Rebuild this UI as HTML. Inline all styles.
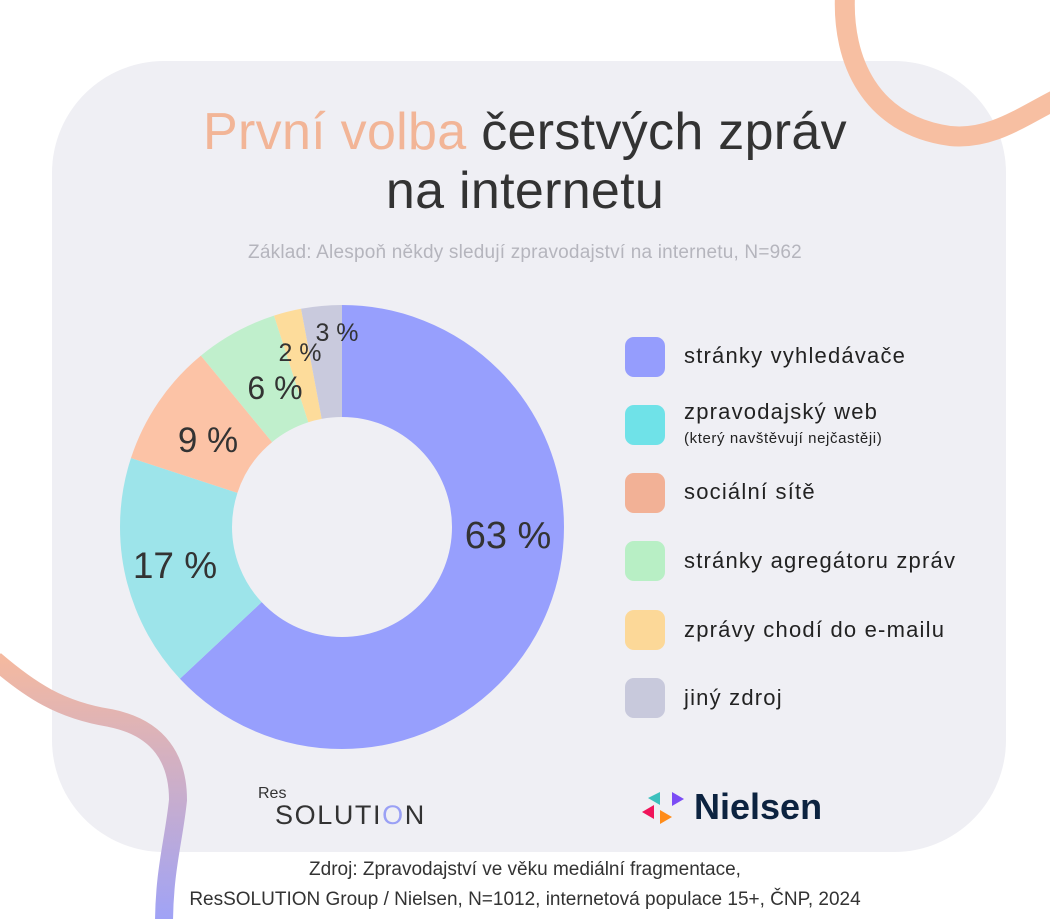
<!DOCTYPE html>
<html><head><meta charset="utf-8"><style>
body{margin:0;width:1050px;height:919px;background:#fff;position:relative;overflow:hidden;font-family:"Liberation Sans",sans-serif}
.panel{position:absolute;left:52px;top:61px;width:954px;height:791px;background:#efeff4;border-radius:112px}
.t{position:absolute;white-space:nowrap}
.sw{position:absolute;left:625px;width:40px;height:40px;border-radius:9px}
.lg{position:absolute;left:684px;font-size:22px;letter-spacing:1.2px;color:#222}
</style></head><body>
<div class="panel"></div>
<svg width="1050" height="919" style="position:absolute;left:0;top:0">
<defs><linearGradient id="g" x1="0" y1="0" x2="0" y2="1"><stop offset="0" stop-color="#f4b9a0"/><stop offset="1" stop-color="#9ea2f8"/></linearGradient></defs>
<path d="M845 -5 C842 60 870 125 950 136 C990 140 1020 118 1055 100" fill="none" stroke="#f7bfa2" stroke-width="20"/>
<path d="M-5 660 C30 690 60 710 110 718 C160 728 178 760 178 800 C174 840 164 870 164 925" fill="none" stroke="url(#g)" stroke-width="18"/>
<g transform="rotate(-90 342 527)" fill="none" stroke-width="112">
<circle cx="342" cy="527" r="166" stroke="#979ffd" stroke-dasharray="657.1 1043" stroke-dashoffset="0"/>
<circle cx="342" cy="527" r="166" stroke="#9de4ea" stroke-dasharray="177.3 1043" stroke-dashoffset="-657.1"/>
<circle cx="342" cy="527" r="166" stroke="#fcc3a6" stroke-dasharray="93.9 1043" stroke-dashoffset="-834.4"/>
<circle cx="342" cy="527" r="166" stroke="#c0efcc" stroke-dasharray="62.6 1043" stroke-dashoffset="-928.3"/>
<circle cx="342" cy="527" r="166" stroke="#fddc9b" stroke-dasharray="20.9 1043" stroke-dashoffset="-990.9"/>
<circle cx="342" cy="527" r="166" stroke="#c9cadd" stroke-dasharray="31.3 1043" stroke-dashoffset="-1011.8"/>
</g>
<g font-family="Liberation Sans, sans-serif" fill="#333" text-anchor="middle">
<text x="508" y="548" font-size="38">63 %</text>
<text x="175" y="578" font-size="37">17 %</text>
<text x="208" y="452" font-size="35">9 %</text>
<text x="275" y="399" font-size="32">6 %</text>
<text x="300" y="361" font-size="25">2 %</text>
<text x="337" y="341" font-size="25">3 %</text>
</g>
<g transform="translate(642,810)">
<polygon points="0,2 12,-5 12,9" fill="#f0145a"/>
<polygon points="6,-12 18,-18 18,-5" fill="#3cc0bd"/>
<polygon points="30,-18 42,-11 30,-4" fill="#7b4cf5"/>
<polygon points="18,0 30,7 18,14" fill="#ff8c1a"/>
</g>
</svg>
<div class="t" style="left:0;width:1050px;top:103px;text-align:center;font-size:52px;color:#333;line-height:59px;letter-spacing:0.3px">
<span style="color:#f2b597">První volba</span> čerstvých zpráv<br>na internetu</div>
<div class="t" style="left:0;width:1050px;top:242px;text-align:center;font-size:19px;color:#b5b5bd;letter-spacing:0.2px">Základ: Alespoň někdy sledují zpravodajství na internetu, N=962</div>
<div class="sw" style="top:337px;background:#959dfd"></div>
<div class="sw" style="top:405px;background:#6fe2e8"></div>
<div class="sw" style="top:473px;background:#f2b196"></div>
<div class="sw" style="top:541px;background:#b8efc5"></div>
<div class="sw" style="top:610px;background:#fcd898"></div>
<div class="sw" style="top:678px;background:#c8c9dc"></div>
<div class="lg" style="top:343px">stránky vyhledávače</div>
<div class="lg" style="top:399px">zpravodajský web</div>
<div class="lg" style="top:430px;font-size:15px;letter-spacing:0.6px">(který navštěvují nejčastěji)</div>
<div class="lg" style="top:479px">sociální sítě</div>
<div class="lg" style="top:548px">stránky agregátoru zpráv</div>
<div class="lg" style="top:617px">zprávy chodí do e-mailu</div>
<div class="lg" style="top:685px">jiný zdroj</div>
<div class="t" style="left:258px;top:785px;font-size:16px;color:#333">Res</div>
<div class="t" style="left:275px;top:800px;font-size:27px;color:#333;letter-spacing:1.6px">SOLUTI<span style="color:#9aa0f5">O</span>N</div>
<div class="t" style="left:694px;top:786px;font-size:36px;font-weight:bold;color:#0c2340">Nielsen</div>
<div class="t" style="left:0;width:1050px;top:855px;text-align:center;font-size:19px;color:#333;line-height:30px">Zdroj: Zpravodajství ve věku mediální fragmentace,<br>ResSOLUTION Group / Nielsen, N=1012, internetová populace 15+, ČNP, 2024</div>
</body></html>
